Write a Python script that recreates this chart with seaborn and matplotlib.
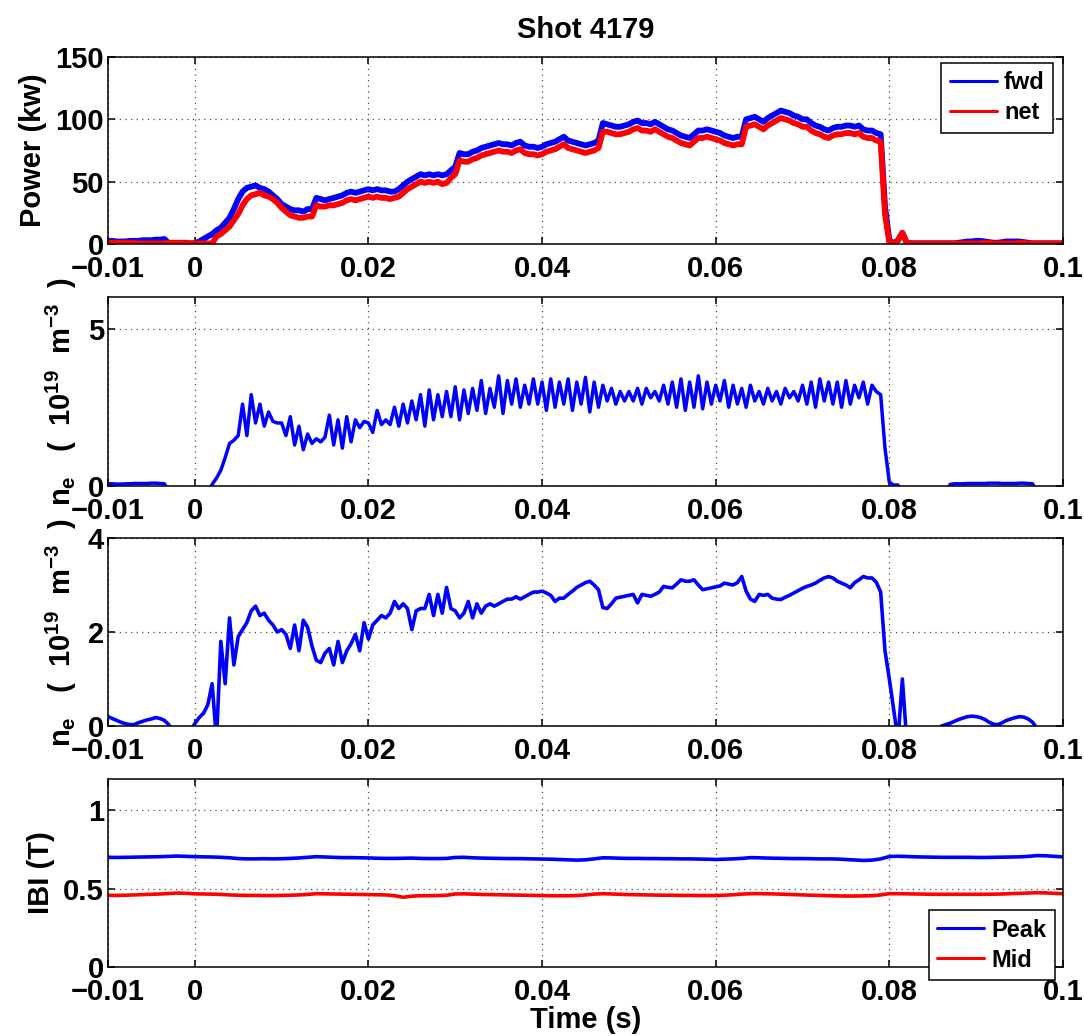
import numpy as np
import pandas as pd
import matplotlib
matplotlib.use("Agg")
import matplotlib.pyplot as plt
from matplotlib.ticker import FixedLocator, FuncFormatter
import seaborn as sns

# ---------------------------------------------------------------------------
# Shot 4179 diagnostics
# fast channels: sampled every 0.5 ms from t = -10 ms
# magnetic field channels: sampled every 1 ms from t = -10 ms
# ---------------------------------------------------------------------------
T_START = -0.01
DT_FAST = 0.0005
DT_SLOW = 0.001

# RF power (kW)
power_fwd = [
    2.5, 2.5, 2.0, 2.0, 2.0, 2.5, 2.5, 2.5, 3.0, 3.0, 3.0, 3.5, 3.5, 4.0, 0.5, 0.5, 0.5, 0.5, 0.5, 0.5,
    0.5, 2, 4, 6, 8, 11, 13, 17, 21, 28, 36, 42, 45, 46, 47, 45, 44, 42, 39, 36,
    32, 30, 28, 27, 27, 26, 28, 28, 37, 36, 35, 36, 37, 38, 39, 41, 42, 41, 42, 43,
    44, 43, 44, 43, 43, 42, 42, 44, 47, 50, 52, 54, 56, 55, 56, 55, 56, 55, 56, 59,
    62, 73, 72, 72, 74, 75, 77, 78, 79, 80, 81, 80, 80, 79, 81, 82, 79, 78, 78, 77,
    78, 80, 81, 82, 84, 86, 83, 82, 81, 80, 79, 80, 81, 83, 97, 96, 95, 94, 94, 95,
    96, 98, 99, 97, 97, 96, 98, 96, 94, 92, 91, 89, 87, 86, 85, 88, 91, 91, 92, 91,
    90, 89, 87, 86, 85, 86, 86, 100, 101, 102, 100, 98, 101, 103, 105, 107, 106, 105, 103, 102,
    100, 100, 97, 95, 94, 92, 91, 93, 94, 94, 95, 95, 94, 95, 92, 91, 91, 89, 88, 30,
    3, 0.5, 3, 9, 1, 0.5, 0.5, 0.5, 0.5, 0.5, 0.5, 0.5, 0.5, 0.5, 0.5, 0.5, 1, 1.5, 2, 2,
    2.5, 2.5, 2, 1.5, 1, 1, 1.5, 2, 2, 2, 2, 1.5, 1, 0.5, 0.5, 0.5, 0.5, 0.5, 0.5, 0.5,
    0.5,
]
power_net = [
    1, 1, 1, 1, 1, 1, 1, 0.5, 0.5, 0.5, 0.5, 0.5, 0.5, 0.5, 1, 1, 1, 1, 1, 0.5,
    0.5, 0.5, 0.5, 0.5, 0.5, 6, 8, 11, 14, 19, 24, 31, 36, 39, 40, 41, 39, 38, 36, 33,
    29, 26, 23, 22, 21, 21, 22, 22, 31, 30, 30, 31, 31, 32, 33, 35, 36, 35, 36, 37,
    38, 37, 38, 37, 37, 36, 37, 38, 41, 44, 46, 48, 50, 49, 50, 49, 50, 48, 49, 53,
    56, 67, 66, 66, 68, 69, 71, 72, 73, 74, 75, 74, 74, 73, 75, 76, 73, 72, 72, 71,
    72, 74, 75, 76, 78, 80, 77, 76, 75, 74, 73, 74, 75, 77, 90, 90, 89, 88, 88, 89,
    90, 92, 93, 91, 91, 90, 92, 90, 88, 86, 85, 83, 81, 80, 79, 82, 85, 85, 86, 85,
    84, 83, 81, 80, 79, 80, 80, 94, 95, 96, 94, 92, 95, 97, 99, 101, 100, 99, 97, 96,
    94, 94, 91, 89, 88, 86, 85, 87, 88, 88, 89, 89, 88, 89, 86, 85, 85, 83, 82, 24,
    1, 0.5, 3, 9, 1, 0.5, 0.5, 0.5, 0.5, 0.5, 0.5, 0.5, 0.5, 0.5, 0.5, 0.5, 0.5, 0.5, 0.5, 0.5,
    0.5, 0.5, 1, 1, 0.5, 0.5, 0.5, 0.5, 0.5, 0.5, 1, 1, 0.5, 0.5, 0.5, 0.5, 0.5, 0.5, 0.5, 0.5,
    0.5,
]

# line-averaged density, chord 1 (1e19 m^-3)
density_1 = [
    0.07, 0.07, 0.06, 0.06, 0.07, 0.07, 0.08, 0.08, 0.08, 0.08, 0.09, 0.09, 0.08, 0.07, -0.2, -0.3, -0.3, -0.3, -0.3, -0.3,
    -0.3, -0.3, -0.3, -0.2, 0.05, 0.25, 0.5, 0.9, 1.35, 1.45, 1.6, 2.6, 1.6, 2.9, 2.0, 2.6, 1.9, 2.35, 2.05, 2.0,
    2.0, 1.6, 2.2, 1.3, 1.9, 1.15, 1.65, 1.35, 1.5, 1.4, 1.55, 2.25, 1.3, 2.1, 1.2, 2.2, 1.4, 2.1, 1.85, 2.05,
    2.0, 1.7, 2.4, 1.95, 2.1, 1.95, 2.5, 1.9, 2.6, 2.0, 2.7, 2.1, 2.9, 1.9, 3.05, 2.1, 2.9, 2.2, 3.0, 2.2,
    3.15, 2.1, 3.05, 2.3, 3.1, 2.4, 3.35, 2.3, 3.1, 2.5, 3.5, 2.3, 3.35, 2.6, 3.4, 2.5, 3.2, 2.6, 3.4, 2.6,
    3.3, 2.4, 3.4, 2.5, 3.3, 2.6, 3.4, 2.4, 3.3, 2.6, 3.45, 2.35, 3.3, 2.5, 3.2, 2.7, 3.1, 2.6, 3.0, 2.7,
    3.0, 2.7, 3.1, 2.6, 3.1, 2.8, 3.0, 2.7, 3.2, 2.6, 3.3, 2.5, 3.4, 2.4, 3.3, 2.5, 3.5, 2.45, 3.3, 2.6,
    3.2, 2.7, 3.35, 2.5, 3.2, 2.6, 3.1, 2.5, 3.2, 2.7, 3.0, 2.6, 3.1, 2.7, 3.0, 2.6, 3.1, 2.8, 3.0, 2.7,
    3.2, 2.6, 3.3, 2.5, 3.4, 2.7, 3.3, 2.6, 3.3, 2.5, 3.35, 2.6, 3.2, 2.8, 3.3, 2.6, 3.2, 3.0, 2.9, 1.2,
    0.12, 0.03, 0.03, -0.2, -0.3, -0.3, -0.3, -0.3, -0.3, -0.3, -0.3, -0.3, -0.3, -0.3, 0.05, 0.07, 0.07, 0.07, 0.08, 0.08,
    0.08, 0.08, 0.08, 0.09, 0.09, 0.09, 0.08, 0.08, 0.08, 0.08, 0.09, 0.09, 0.08, 0.07, -0.2, -0.3, -0.3, -0.3, -0.3, -0.3,
    -0.3,
]

# line-averaged density, chord 2 (1e19 m^-3)
density_2 = [
    0.2, 0.16, 0.12, 0.08, 0.05, 0.03, 0.03, 0.07, 0.1, 0.13, 0.15, 0.18, 0.16, 0.12, 0.03, -0.2, -0.3, -0.3, -0.3, -0.1,
    0.05, 0.18, 0.27, 0.45, 0.9, -0.3, 1.8, 0.9, 2.3, 1.3, 1.9, 2.05, 2.2, 2.45, 2.55, 2.35, 2.4, 2.25, 2.15, 2.0,
    2.05, 1.95, 1.65, 2.15, 1.6, 2.25, 2.1, 1.7, 1.4, 1.35, 1.55, 1.65, 1.3, 1.8, 1.35, 1.6, 1.75, 1.95, 1.6, 2.2,
    1.85, 2.15, 2.25, 2.35, 2.3, 2.4, 2.65, 2.5, 2.6, 2.5, 2.05, 2.45, 2.5, 2.5, 2.8, 2.35, 2.8, 2.4, 2.95, 2.5,
    2.45, 2.3, 2.4, 2.65, 2.3, 2.6, 2.4, 2.55, 2.6, 2.55, 2.6, 2.65, 2.7, 2.7, 2.75, 2.7, 2.75, 2.8, 2.85, 2.85,
    2.87, 2.83, 2.78, 2.65, 2.72, 2.72, 2.8, 2.87, 2.95, 3.0, 3.05, 3.08, 3.0, 2.9, 2.52, 2.5, 2.6, 2.72, 2.74, 2.76,
    2.78, 2.8, 2.62, 2.8, 2.78, 2.76, 2.8, 2.85, 2.97, 2.95, 2.94, 3.02, 3.11, 3.08, 3.08, 3.11, 3.0, 2.9, 2.92, 2.94,
    2.96, 2.98, 3.04, 3.02, 3.0, 3.05, 3.18, 2.87, 2.7, 2.65, 2.8, 2.78, 2.8, 2.72, 2.7, 2.69, 2.74, 2.78, 2.83, 2.88,
    2.93, 2.97, 3.0, 3.04, 3.1, 3.15, 3.18, 3.15, 3.08, 3.04, 3.0, 2.94, 3.05, 3.11, 3.18, 3.15, 3.15, 3.06, 2.85, 1.6,
    1.0, 0.35, -0.3, 1.0, -0.3, -0.3, -0.3, -0.3, -0.3, -0.3, -0.3, -0.3, 0.0, 0.03, 0.06, 0.1, 0.14, 0.17, 0.2, 0.21,
    0.2, 0.18, 0.14, 0.08, 0.04, 0.03, 0.07, 0.12, 0.15, 0.18, 0.2, 0.19, 0.15, 0.08, -0.05, -0.3, -0.3, -0.3, -0.3, -0.3,
    -0.3,
]

# magnetic field magnitude (T)
b_peak = [
    0.700, 0.699, 0.700, 0.701, 0.702, 0.703, 0.704, 0.706, 0.708, 0.706,
    0.704, 0.703, 0.702, 0.700, 0.697, 0.692, 0.690, 0.690, 0.691, 0.690,
    0.691, 0.693, 0.696, 0.700, 0.704, 0.702, 0.700, 0.698, 0.698, 0.697,
    0.696, 0.694, 0.693, 0.693, 0.694, 0.695, 0.693, 0.692, 0.692, 0.693,
    0.699, 0.700, 0.697, 0.695, 0.694, 0.693, 0.692, 0.692, 0.691, 0.690,
    0.689, 0.688, 0.686, 0.684, 0.682, 0.684, 0.690, 0.697, 0.696, 0.694,
    0.693, 0.693, 0.692, 0.692, 0.691, 0.691, 0.690, 0.690, 0.689, 0.688,
    0.686, 0.688, 0.690, 0.693, 0.698, 0.697, 0.695, 0.694, 0.693, 0.692,
    0.692, 0.691, 0.690, 0.690, 0.689, 0.686, 0.683, 0.680, 0.682, 0.690,
    0.705, 0.707, 0.705, 0.703, 0.702, 0.701, 0.700, 0.700, 0.700, 0.700,
    0.699, 0.699, 0.700, 0.701, 0.702, 0.703, 0.706, 0.711, 0.710, 0.706,
    0.703,
]
b_mid = [
    0.457, 0.457, 0.458, 0.460, 0.462, 0.464, 0.466, 0.469, 0.472, 0.470,
    0.467, 0.466, 0.465, 0.463, 0.460, 0.458, 0.457, 0.457, 0.456, 0.456,
    0.457, 0.458, 0.460, 0.463, 0.468, 0.467, 0.466, 0.465, 0.464, 0.463,
    0.462, 0.461, 0.460, 0.455, 0.445, 0.452, 0.455, 0.455, 0.456, 0.458,
    0.466, 0.467, 0.465, 0.463, 0.462, 0.461, 0.460, 0.459, 0.458, 0.457,
    0.456, 0.455, 0.455, 0.455, 0.456, 0.460, 0.465, 0.468, 0.466, 0.464,
    0.462, 0.461, 0.460, 0.459, 0.458, 0.458, 0.457, 0.457, 0.456, 0.456,
    0.456, 0.458, 0.461, 0.465, 0.468, 0.468, 0.467, 0.466, 0.464, 0.462,
    0.460, 0.458, 0.457, 0.455, 0.454, 0.453, 0.453, 0.454, 0.455, 0.460,
    0.468, 0.468, 0.467, 0.466, 0.465, 0.464, 0.464, 0.464, 0.464, 0.464,
    0.464, 0.464, 0.465, 0.466, 0.468, 0.470, 0.472, 0.474, 0.473, 0.470,
    0.468,
]

# axis definitions
x_ticks = [-0.01, 0, 0.02, 0.04, 0.06, 0.08, 0.1]
y_ticks = [[0, 50, 100, 150], [0, 5], [0, 2, 4], [0, 0.5, 1]]
y_limits = [(0, 150), (0, 6), (0, 4), (0, 1.2)]
density_label = r"$n_e$   (  10$^{19}$  m$^{-3}$  )"
y_labels = ["Power (kw)", density_label, density_label, "IBI (T)"]


def time_axis(values, dt):
    return T_START + dt * np.arange(len(values))


df_power = pd.DataFrame({
    "t": np.concatenate([time_axis(power_fwd, DT_FAST), time_axis(power_net, DT_FAST)]),
    "value": power_fwd + power_net,
    "signal": ["fwd"] * len(power_fwd) + ["net"] * len(power_net),
})
df_n1 = pd.DataFrame({"t": time_axis(density_1, DT_FAST), "value": density_1})
df_n2 = pd.DataFrame({"t": time_axis(density_2, DT_FAST), "value": density_2})
df_b = pd.DataFrame({
    "t": np.concatenate([time_axis(b_peak, DT_SLOW), time_axis(b_mid, DT_SLOW)]),
    "value": b_peak + b_mid,
    "signal": ["Peak"] * len(b_peak) + ["Mid"] * len(b_mid),
})

sns.set_style("ticks")
plt.rcParams.update({
    "font.family": ["Liberation Sans", "DejaVu Sans"],
    "font.weight": "bold",
    "axes.labelweight": "bold",
    "axes.titleweight": "bold",
    "mathtext.fontset": "custom",
    "mathtext.rm": "Liberation Sans:bold",
    "mathtext.it": "Liberation Sans:bold",
    "mathtext.bf": "Liberation Sans:bold",
    "mathtext.sf": "Liberation Sans:bold",
    "text.color": "black",
    "axes.labelcolor": "black",
    "xtick.color": "black",
    "ytick.color": "black",
    "axes.edgecolor": "black",
    "axes.linewidth": 1.1,
    "axes.axisbelow": True,
})

FS = 21
fig = plt.figure(figsize=(10.84, 10.36), dpi=100)
left, width = 0.0996, 0.881
bottoms = [0.7645, 0.5309, 0.2992, 0.0666]
heights = [0.1805, 0.1824, 0.1815, 0.1815]
axes = [fig.add_axes([left, b, width, h]) for b, h in zip(bottoms, heights)]

colors = {"fwd": "#0000ff", "net": "#ff0000", "Peak": "#0000ff", "Mid": "#ff0000"}

sns.lineplot(data=df_power, x="t", y="value", hue="signal", palette=colors,
             linewidth=4.2, ax=axes[0], legend=False, estimator=None)
sns.lineplot(data=df_n1, x="t", y="value", color="#0000ff", linewidth=2.5,
             ax=axes[1], estimator=None)
sns.lineplot(data=df_n2, x="t", y="value", color="#0000ff", linewidth=2.6,
             ax=axes[2], estimator=None)
sns.lineplot(data=df_b, x="t", y="value", hue="signal", palette=colors,
             linewidth=2.6, ax=axes[3], legend=False, estimator=None)


def tick_text(v, pos):
    return f"{v:g}".replace("-", "\u2212")


for i, ax in enumerate(axes):
    ax.set_xlim(-0.01, 0.1)
    ax.set_ylim(*y_limits[i])
    ax.xaxis.set_major_locator(FixedLocator(x_ticks))
    ax.yaxis.set_major_locator(FixedLocator(y_ticks[i]))
    ax.xaxis.set_major_formatter(FuncFormatter(tick_text))
    ax.yaxis.set_major_formatter(FuncFormatter(tick_text))
    ax.grid(True, linestyle=(0, (1, 3.5)), color="0.3", linewidth=0.9)
    ax.tick_params(direction="in", length=5, width=1.1, top=True, right=True,
                   labelsize=FS, colors="black")
    ax.tick_params(axis="x", pad=8)
    ax.tick_params(axis="y", pad=3)
    for sp in ax.spines.values():
        sp.set_visible(True)
        sp.set_color("black")
    ax.set_ylabel(y_labels[i], fontsize=FS, labelpad=6)
    ax.set_xlabel("")

axes[0].set_title("Shot 4179", fontsize=FS, pad=14)
axes[3].set_xlabel("Time (s)", fontsize=FS, labelpad=0)

legend_style = dict(fontsize=17, frameon=True, fancybox=False, framealpha=1,
                    edgecolor="black", handlelength=2.0, handletextpad=0.3,
                    borderpad=0.35, labelspacing=0.3, borderaxespad=0)
leg1 = axes[0].legend(axes[0].lines[:2], ["fwd", "net"], loc="upper right",
                      bbox_to_anchor=(0.9895, 0.968), **legend_style)
leg2 = axes[3].legend(axes[3].lines[:2], ["Peak", "Mid"], loc="lower right",
                      bbox_to_anchor=(0.9916, -0.069), **legend_style)
for leg in (leg1, leg2):
    leg.get_frame().set_linewidth(1.1)
    for h in leg.get_lines():
        h.set_linewidth(2.2)

fig.savefig("out.png", dpi=100)
